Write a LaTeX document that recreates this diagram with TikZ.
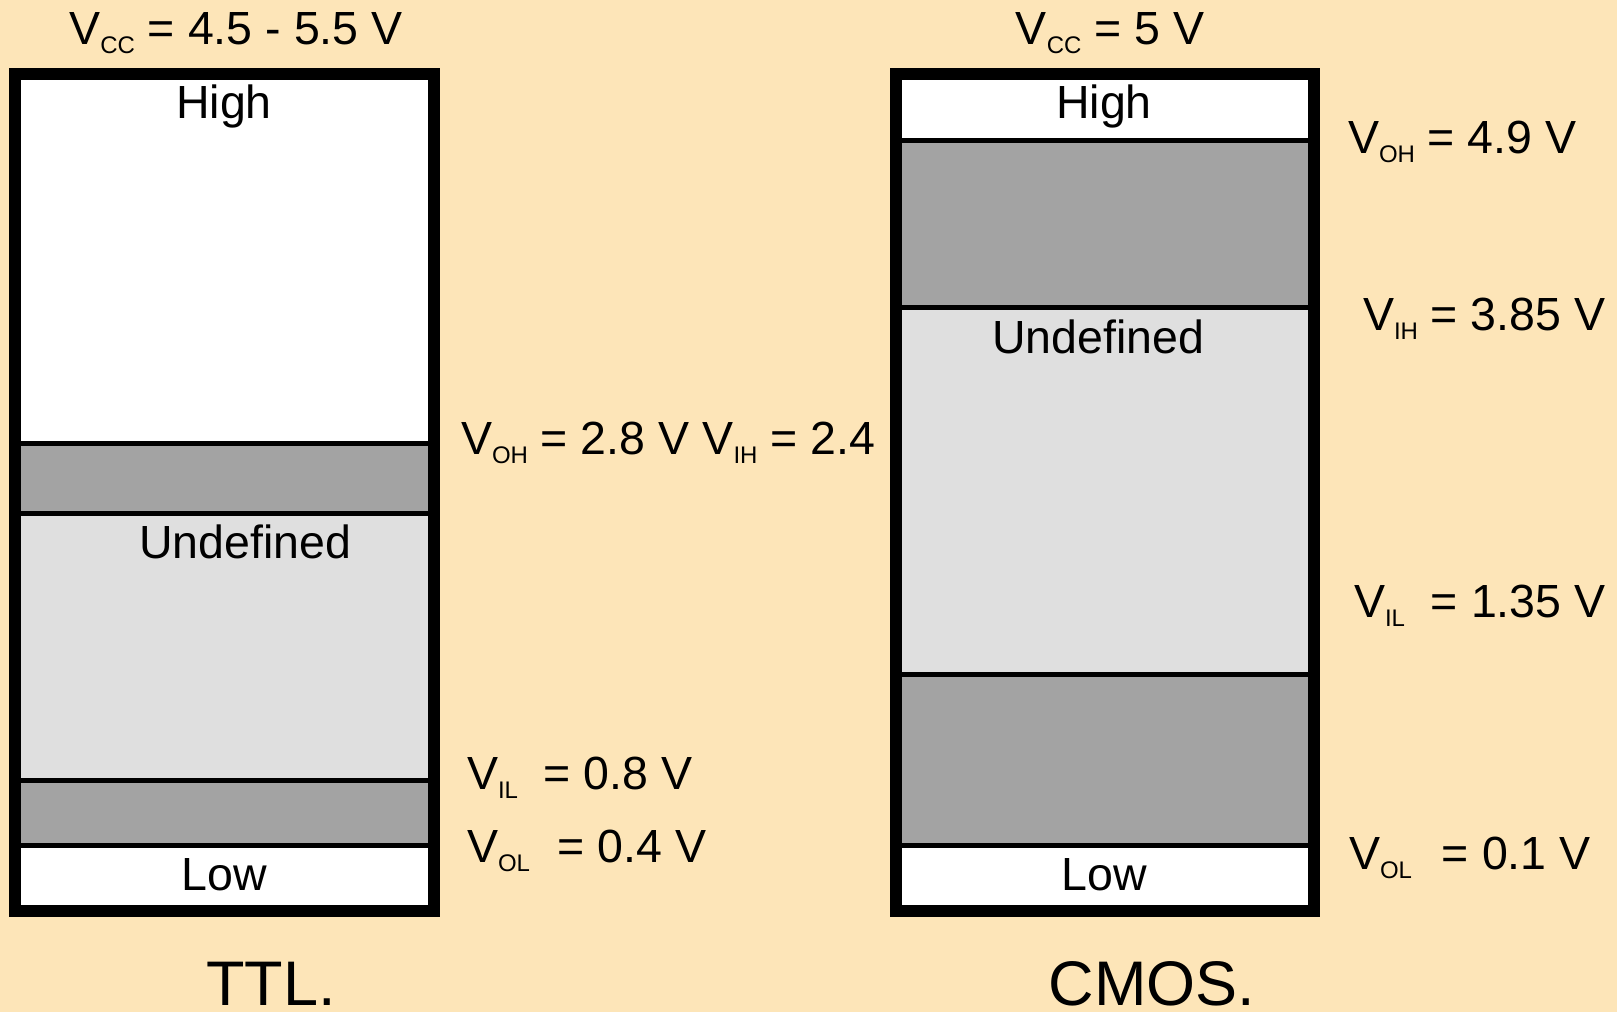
\documentclass[tikz,border=0pt]{standalone}
\usepackage{fontspec}
\setmainfont{Liberation Sans}
\definecolor{bg}{HTML}{FDE5B8}
\definecolor{dgray}{HTML}{A3A3A3}
\definecolor{lgray}{HTML}{DFDFDF}
\newcommand\lsub[1]{\raisebox{-9pt}{\fontsize{24}{24}\selectfont #1}}
\begin{document}
\begin{tikzpicture}[x=1pt,y=-1pt,
  lbl/.style={inner sep=0, outer sep=0, font=\fontsize{46.5}{55}\selectfont},
  big/.style={inner sep=0, outer sep=0, font=\fontsize{63}{72}\selectfont},
  sepline/.style={line width=5pt},
  frame/.style={line width=12pt}]
\fill[bg] (0,0) rectangle (1617,1012);
\useasboundingbox (0,0) rectangle (1617,1012);
% TTL box
\fill[white] (15,74) rectangle (433.5,443);
\fill[dgray] (15,443) rectangle (433.5,513);
\fill[lgray] (15,513) rectangle (433.5,780);
\fill[dgray] (15,780) rectangle (433.5,845);
\fill[white] (15,845) rectangle (433.5,911);
\foreach \yy in {443,513,780,845} \draw[sepline] (15,\yy) -- (433.5,\yy);
\draw[frame] (15,74) rectangle (433.5,911);
\node[lbl, anchor=base] (ttlvcc) at (236,44) {V\lsub{CC} = 4.5 - 5.5 V};
\node[lbl, anchor=base] (ttlhigh) at (224,118) {High};
\node[lbl, anchor=base] (ttlundef) at (245,558) {Undefined};
\node[lbl, anchor=base] (ttllow) at (224,890) {Low};
\node[big, anchor=base] (ttlname) at (271,1005) {TTL.};
\node[lbl, anchor=base west] (ttlvoh) at (461,454) {V\lsub{OH} = 2.8 V V\lsub{IH} = 2.4};
\node[lbl, anchor=base west] (ttlvil) at (467,789) {V\lsub{IL}\hspace{13pt} = 0.8 V};
\node[lbl, anchor=base west] (ttlvol) at (467,862) {V\lsub{OL}\hspace{15pt} = 0.4 V};
% CMOS box
\fill[white] (895.5,74) rectangle (1313.5,140);
\fill[dgray] (895.5,140) rectangle (1313.5,307);
\fill[lgray] (895.5,307) rectangle (1313.5,674);
\fill[dgray] (895.5,674) rectangle (1313.5,845);
\fill[white] (895.5,845) rectangle (1313.5,911);
\foreach \yy in {140,307,674,845} \draw[sepline] (895.5,\yy) -- (1313.5,\yy);
\draw[frame] (895.5,74) rectangle (1313.5,911);
\node[lbl, anchor=base] (cmosvcc) at (1110,44) {V\lsub{CC} = 5 V};
\node[lbl, anchor=base] (cmoshigh) at (1104,118) {High};
\node[lbl, anchor=base] (cmosundef) at (1098,353) {Undefined};
\node[lbl, anchor=base] (cmoslow) at (1104,890) {Low};
\node[big, anchor=base] (cmosname) at (1152,1005) {CMOS.};
\node[lbl, anchor=base west] (cmosvoh) at (1348,153) {V\lsub{OH} = 4.9 V};
\node[lbl, anchor=base west] (cmosvih) at (1363,330) {V\lsub{IH} = 3.85 V};
\node[lbl, anchor=base west] (cmosvil) at (1354,617) {V\lsub{IL}\hspace{13pt} = 1.35 V};
\node[lbl, anchor=base west] (cmosvol) at (1349,869) {V\lsub{OL}\hspace{17pt} = 0.1 V};
\end{tikzpicture}
\end{document}
